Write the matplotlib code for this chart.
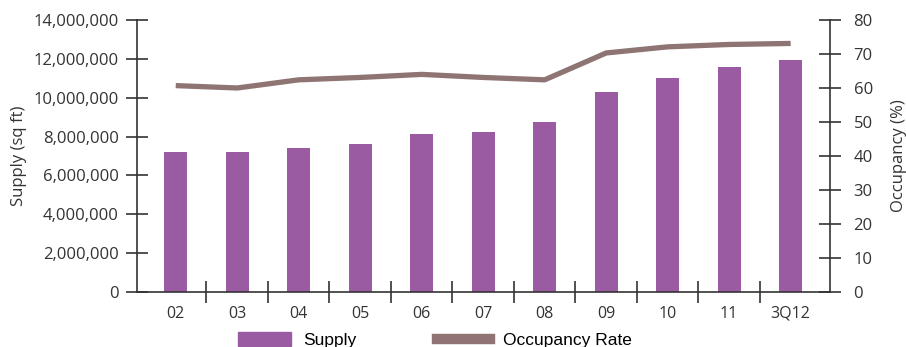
import numpy as np
import matplotlib.pyplot as plt
from matplotlib.ticker import FuncFormatter, FixedLocator
from matplotlib.lines import Line2D
from matplotlib.patches import Patch

years = ['02', '03', '04', '05', '06', '07', '08', '09', '10', '11', '3Q12']
supply = [7200000, 7200000, 7410000, 7620000, 8130000, 8230000, 8750000,
          10290000, 11010000, 11580000, 11940000]
occupancy = [60.7, 60.0, 62.4, 63.1, 64.0, 63.1, 62.4, 70.3, 72.1, 72.8, 73.1]

bar_color = '#9a5ba2'
line_color = '#8f7474'
axis_color = '#333333'
text_color = '#333333'

plt.rcParams['font.family'] = ['Open Sans', 'DejaVu Sans']

fig = plt.figure(figsize=(9.06, 3.47), dpi=100)
ax = fig.add_axes([0.1512, 0.1585, 0.7649, 0.7839])
ax2 = ax.twinx()

x = np.arange(len(years))
ax.bar(x, supply, width=0.37, color=bar_color, zorder=2)
ax2.plot(x, occupancy, color=line_color, lw=3.8, solid_capstyle='butt', zorder=3)

ax.set_xlim(-0.63, 10.64)
ax.set_ylim(0, 14000000)
ax2.set_ylim(0, 80)

ax.set_yticks(np.arange(0, 14000001, 2000000))
ax.yaxis.set_major_formatter(FuncFormatter(lambda v, p: f'{int(v):,}'))
ax2.set_yticks(np.arange(0, 81, 10))

# category labels sit between the tick marks
ax.set_xticks(x)
ax.set_xticklabels(years)
ax.xaxis.set_minor_locator(FixedLocator(x[:-1] + 0.5))
ax.tick_params(axis='x', which='major', length=0, pad=10, labelsize=11.5, labelcolor=text_color)
ax.tick_params(axis='x', which='minor', direction='inout', length=16, width=1.2, color=axis_color)
ax.tick_params(axis='y', direction='inout', length=16, width=1.2, color=axis_color,
               pad=5, labelsize=12, labelcolor=text_color)
ax2.tick_params(axis='y', direction='inout', length=16, width=1.2, color=axis_color,
                pad=9, labelsize=12, labelcolor=text_color)

for a in (ax, ax2):
    a.spines['top'].set_visible(False)
    for s in ('left', 'right', 'bottom'):
        a.spines[s].set_color(axis_color)
        a.spines[s].set_linewidth(1.2)
ax.spines['right'].set_visible(False)
ax2.spines['left'].set_visible(False)
ax2.spines['bottom'].set_visible(False)

ax.set_ylabel('Supply (sq ft)', fontsize=12, color=text_color, labelpad=5)
ax2.set_ylabel('Occupancy (%)', fontsize=12, color=text_color, labelpad=13)

handles = [Patch(color=bar_color), Line2D([], [], color=line_color, lw=7.5)]
fig.legend(handles, ['Supply', 'Occupancy Rate'], loc='lower left',
           bbox_to_anchor=(0.245, -0.048), ncol=2, frameon=False,
           prop={'family': 'Liberation Sans', 'size': 12.5},
           handlelength=3.05, handleheight=0.8, columnspacing=4.6, handletextpad=0.75)

fig.savefig('out.png', dpi=100)
